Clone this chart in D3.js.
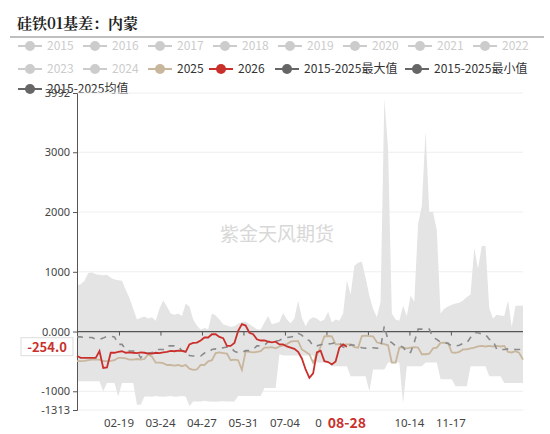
<!DOCTYPE html>
<html><head><meta charset="utf-8">
<script src="https://cdn.jsdelivr.net/npm/d3@7/dist/d3.min.js"></script>
<style>body{margin:0;background:#fff}svg{font-family:"Microsoft YaHei","Noto Sans CJK SC",sans-serif}</style>
</head><body><svg id="c" width="550" height="434"></svg>
<script>
const maxVals=[770,790,850,980,990,960,950,940,950,900,870,860,850,700,560,380,200,230,250,220,240,180,380,520,420,300,280,300,260,470,420,200,100,30,60,40,300,270,200,120,100,80,90,130,160,170,120,80,40,30,150,260,120,140,160,310,200,140,220,520,230,90,200,240,220,170,200,330,150,200,180,300,850,620,1100,1150,1170,900,600,380,240,500,3900,3060,300,200,180,430,260,600,500,1800,2100,3350,2000,2000,1700,300,380,420,450,470,480,520,580,620,1400,1050,1430,1430,390,220,280,270,260,520,80,430,430,430];
const minVals=[-830,-830,-830,-830,-830,-830,-830,-1000,-860,-860,-860,-1085,-860,-860,-860,-860,-1225,-1225,-1085,-1085,-1090,-1080,-1085,-1090,-1085,-1080,-1090,-1085,-1080,-1085,-1250,-1170,-1170,-1170,-1160,-1170,-1170,-1175,-1170,-1165,-1170,-1170,-1170,-1080,-1080,-1080,-1080,-1080,-1080,-1080,-945,-945,-945,-945,-380,-400,-400,-400,-400,-400,-400,-400,-400,-400,-520,-520,-520,-520,-580,-580,-580,-580,-580,-750,-750,-750,-750,-750,-1000,-635,-635,-635,-635,-520,-520,-520,-520,-1200,-580,-580,-580,-580,-580,-520,-520,-520,-520,-800,-800,-800,-800,-915,-915,-915,-915,-580,-580,-580,-580,-580,-750,-750,-750,-750,-860,-860,-860,-860,-860,-860];
const y2025=[-495,-495,-490,-480,-470,-470,-470,-495,-495,-490,-480,-440,-440,-450,-470,-470,-460,-470,-460,-380,-420,-520,-520,-530,-560,-560,-570,-560,-580,-560,-620,-640,-635,-560,-560,-500,-480,-360,-350,-360,-370,-480,-470,-480,-640,-330,-340,-350,-340,-330,-270,-270,-260,-280,-250,-230,-210,-170,-160,-160,-300,-340,-380,-520,-400,-250,-80,-75,-80,-215,-210,-220,-215,-215,-260,-270,-75,-70,-75,-80,-180,-200,-210,-230,-520,-520,-270,-270,-280,-270,-260,-270,-380,-380,-370,-280,-270,-190,-185,-190,-350,-355,-340,-300,-300,-280,-270,-250,-240,-250,-240,-250,-240,-250,-240,-340,-350,-330,-360,-470];
const y2026=[-410,-440,-440,-440,-440,-440,-325,-610,-600,-355,-355,-340,-330,-355,-350,-355,-360,-350,-355,-370,-370,-355,-360,-350,-340,-325,-330,-320,-325,-340,-215,-190,-185,-150,-100,-100,-45,-45,-90,-110,-240,-240,-190,10,125,100,-20,-45,-130,-150,-150,-170,-180,-170,-215,-215,-250,-270,-290,-340,-450,-635,-775,-700,-350,-320,-495,-510,-550,-500,-270,-215,-254];
const meanVals=[-90,-90,-100,-100,-100,-130,-130,-110,-80,-80,-90,-215,-215,-300,-325,-325,-330,-440,-380,-360,-350,-300,-300,-300,-240,-240,-240,-250,-320,-325,-400,-410,-410,-410,-360,-350,-300,-290,-300,-270,-260,-260,-330,-355,-350,-320,-320,-300,-240,-240,-230,-170,-160,-160,-150,-110,-100,-90,-80,-30,-60,-130,-150,-240,-240,-220,-210,-210,-200,-185,-190,-260,-280,-220,-230,-250,-270,-280,-270,-270,-280,-270,95,-150,-185,-240,-240,-260,-355,-350,-180,40,40,30,40,-100,-130,-180,-185,-200,-240,-240,-230,-200,-190,-100,-20,-20,-45,-50,-130,-150,-300,-300,-300,-290,-290,-300,-300,-300];
// visible tick labels (the 6th is mostly hidden behind the pointer label, only "0" shows)
const tickLabels=["02-19","03-24","04-27","05-31","07-04","0","","10-14","11-17"];
const yTicks=[3992,3000,2000,1000,0,-1000,-1313];
const legendItems=[
 {n:"2015",c:"#ccc",t:"#ccc"},{n:"2016",c:"#ccc",t:"#ccc"},{n:"2017",c:"#ccc",t:"#ccc"},{n:"2018",c:"#ccc",t:"#ccc"},
 {n:"2019",c:"#ccc",t:"#ccc"},{n:"2020",c:"#ccc",t:"#ccc"},{n:"2021",c:"#ccc",t:"#ccc"},{n:"2022",c:"#ccc",t:"#ccc"},
 {n:"2023",c:"#ccc",t:"#ccc"},{n:"2024",c:"#ccc",t:"#ccc"},{n:"2025",c:"#c8b69d",t:"#333"},{n:"2026",c:"#c9302c",t:"#333"},
 {n:"2015-2025最大值",c:"#666",t:"#333"},{n:"2015-2025最小值",c:"#666",t:"#333"},{n:"2015-2025均值",c:"#666",t:"#333"}];

const svg=d3.select("#c");
const L=77,R=523,T=93,B=410;
const x=d3.scaleLinear().domain([0,119]).range([L,R]);
const y=d3.scaleLinear().domain([-1313,3992]).range([B,T]);

svg.append("text").attr("x",17).attr("y",29).attr("font-size",15).attr("font-weight","bold")
 .attr("font-family","'Noto Serif CJK SC','Noto Sans CJK SC',serif").attr("fill","#222").text("硅铁01基差：内蒙");
svg.append("line").attr("x1",10).attr("x2",544).attr("y1",37).attr("y2",37).attr("stroke","#aaa").attr("stroke-width",1.5);

const pos=[];
for(let k=0;k<8;k++)pos.push([30+65*k,46]);
pos.push([30,69],[95,69],[160,69],[221,69],[287,69],[417,69],[30,89]);
legendItems.forEach((d,i)=>{
 const g=svg.append("g").attr("transform",`translate(${pos[i][0]},${pos[i][1]})`);
 g.append("line").attr("x1",-12).attr("x2",12).attr("stroke",d.c).attr("stroke-width",2);
 g.append("circle").attr("r",5).attr("fill",d.c);
 g.append("text").attr("x",17).attr("y",4).attr("font-size",12).attr("fill",d.t).text(d.n);
});

yTicks.forEach(v=>{
 if(v===0)return;
 svg.append("line").attr("x1",L).attr("x2",R).attr("y1",y(v)).attr("y2",y(v)).attr("stroke","#eee");
});
const idx=d3.range(120);
svg.append("path").datum(idx).attr("fill","#e4e4e4")
 .attr("d",d3.area().x(i=>x(i)).y0(i=>y(minVals[i])).y1(i=>y(maxVals[i])));
svg.append("text").attr("x",277).attr("y",241).attr("text-anchor","middle").attr("font-size",19)
 .attr("fill","#d4d4d4").attr("opacity",0.9).text("紫金天风期货");

svg.append("line").attr("x1",L).attr("x2",R).attr("y1",y(0)).attr("y2",y(0)).attr("stroke","#555").attr("stroke-width",1.2);
svg.append("g").attr("transform",`translate(${L},0)`)
 .call(d3.axisLeft(y).tickValues(yTicks).tickSize(4).tickFormat(v=>v===0?"0.000":v))
 .call(g=>{g.select(".domain").attr("stroke","#555");g.selectAll("line").attr("stroke","#555");
  g.selectAll("text").attr("font-size",11).attr("fill","#444").attr("font-family","'Noto Sans',sans-serif");});
const tickPos=tickLabels.map((_,k)=>11.2+11.07*k);
svg.append("g").attr("transform",`translate(0,${y(0)})`)
 .call(d3.axisBottom(x).tickValues(tickPos).tickSize(4).tickFormat(()=>""))
 .call(g=>{g.select(".domain").remove();g.selectAll("line").attr("stroke","#555");});
svg.append("g").selectAll("text").data(tickLabels).join("text")
 .attr("x",(d,k)=>d==="0"?x(tickPos[k])-8:x(tickPos[k])).attr("y",427).attr("text-anchor","middle").attr("font-size",11.5)
 .attr("fill","#444").attr("font-family","'Noto Sans',sans-serif").text(d=>d);

const line=arr=>d3.line().x((d,i)=>x(i)).y(d=>y(d))(arr);
svg.append("path").attr("d",line(y2025)).attr("fill","none").attr("stroke","#c8b69d").attr("stroke-width",1.8);
svg.append("path").attr("d",line(meanVals)).attr("fill","none").attr("stroke","#8a8a8a").attr("stroke-width",1.6).attr("stroke-dasharray","6,6");
svg.append("path").attr("d",line(y2026)).attr("fill","none").attr("stroke","#c9302c").attr("stroke-width",1.8);

const last=y2026[y2026.length-1], lx=x(y2026.length-1);
const yl=svg.append("g").attr("transform",`translate(21,${y(last)})`);
yl.append("rect").attr("x",0).attr("y",-9).attr("width",52).attr("height",18).attr("fill","#fff").attr("stroke","#ddd");
yl.append("text").attr("x",26).attr("y",5).attr("text-anchor","middle").attr("font-size",13).attr("font-weight","bold").attr("fill","#c9302c").text(last.toFixed(1));
const xl=svg.append("g").attr("transform",`translate(${lx},418)`);
xl.append("rect").attr("x",-22).attr("y",-4).attr("width",44).attr("height",16).attr("fill","#fff");
xl.append("text").attr("y",10).attr("text-anchor","middle").attr("font-size",14).attr("font-weight","bold").attr("fill","#c9302c").text("08-28");
</script></body></html>
